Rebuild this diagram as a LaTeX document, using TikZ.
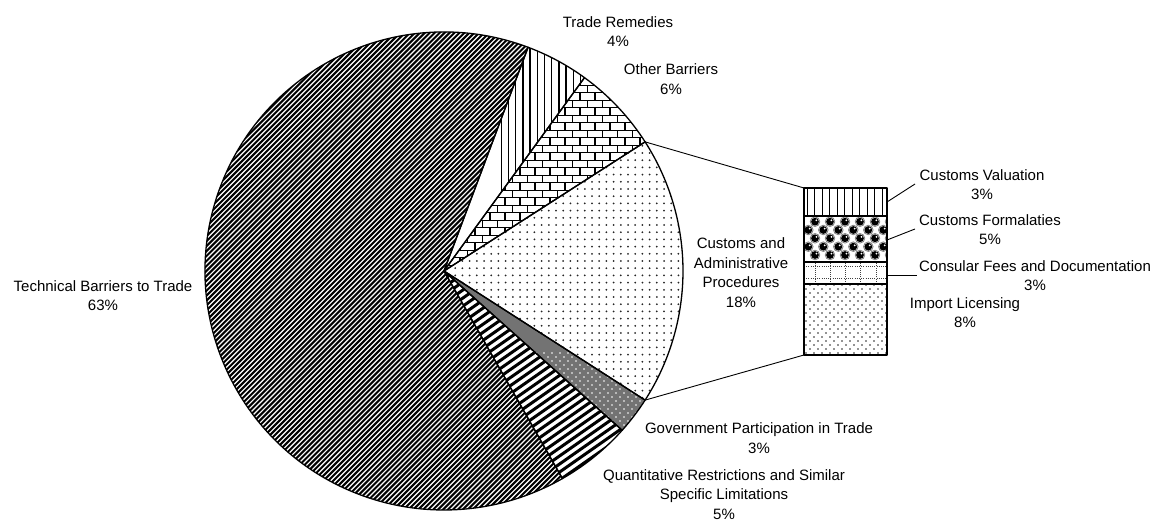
\documentclass[tikz,border=0pt]{standalone}
\usepackage{fontspec}
\setmainfont{Liberation Sans}
\usetikzlibrary{calc}
% closed pie wedge from the centre (O) between two angles
\newcommand\wedgepath[2]{(O) -- ($(O)+(#1:\R)$) arc[start angle=#1, end angle=#2, radius=\R] -- cycle}
\begin{document}
\begin{tikzpicture}[x=1pt,y=1pt,
  lbl/.style={font=\fontsize{15}{19.5}\selectfont, align=center, inner sep=0pt},
  edge/.style={line width=1.3pt, line join=round},
  leader/.style={line width=0.9pt},
]
\useasboundingbox (0,0) rectangle (1153,521);
\def\R{239}
\coordinate (O) at (444,250);

% ---------- Technical Barriers to Trade: fine rising stripes
\begin{scope}
  \clip \wedgepath{69.4}{299.7};
  \begin{scope}[rotate around={45:(444,250)}]
    \foreach \k in {-70,...,70}
      \draw[line width=2pt] (190,250+\k*3.5) -- (700,250+\k*3.5);
  \end{scope}
\end{scope}

% ---------- Trade Remedies: vertical lines
\begin{scope}
  \clip \wedgepath{54}{69.4};
  \foreach \k in {0,...,15}
    \draw[line width=1.3pt] (501.3+\k*7.2,240) -- (501.3+\k*7.2,500);
\end{scope}

% ---------- Other Barriers: bricks
\begin{scope}
  \clip \wedgepath{32.7}{54};
  \foreach \k in {0,...,27} {
    \pgfmathsetmacro\yy{240.8+\k*7.5}
    \pgfmathsetmacro\off{mod(\k,2)*7.5}
    \draw[line width=1.3pt] (430,\yy) -- (680,\yy);
    \foreach \j in {0,...,16}
      \draw[line width=1.3pt] (430+\off+\j*15,\yy) -- ++(0,7.5);
  }
\end{scope}

% ---------- Customs and Administrative Procedures: sparse dots
\begin{scope}
  \clip \wedgepath{-32.7}{32.7};
  \foreach \i in {0,...,33}
    \foreach \j in {0,...,36}
      \fill[black!85] (448+\i*7.2,116+\j*7.2) circle (1.0);
\end{scope}

% ---------- Government Participation in Trade: grey with white dots
\begin{scope}
  \clip \wedgepath{-41.8}{-32.7};
  \fill[black!55] (440,80) rectangle (690,260);
  \foreach \i in {0,...,32}
    \foreach \j in {0,...,22} {
      \pgfmathsetmacro\off{mod(\j,2)*4}
      \fill[white] (440+\off+\i*8,80+\j*4) circle (0.9);
    }
\end{scope}

% ---------- Quantitative Restrictions: wide rising stripes
\begin{scope}
  \clip \wedgepath{-60.3}{-41.8};
  \begin{scope}[rotate around={35:(444,250)}]
    \foreach \k in {-40,...,40}
      \draw[line width=3pt] (190,250+\k*6.6) -- (700,250+\k*6.6);
  \end{scope}
\end{scope}

% ---------- wedge outlines
\foreach \a/\b in {69.4/299.7, 54/69.4, 32.7/54, -32.7/32.7, -41.8/-32.7, -60.3/-41.8}
  \draw[edge] \wedgepath{\a}{\b};

% ---------- breakdown bar
\coordinate (boxNW) at (804,333);
\coordinate (boxSW) at (804,166);
\coordinate (boxNE) at (887,333);
\coordinate (boxSE) at (887,166);

% Customs Valuation: vertical lines
\begin{scope}
  \clip (804,305) rectangle (887,333);
  \foreach \k in {0,...,10}
    \draw[line width=1.2pt] (807.3+\k*7.5,305) -- ++(0,28);
\end{scope}

% Customs Formalaties: spheres
\begin{scope}
  \clip (804,259) rectangle (887,305);
  \foreach \r/\yy in {0/299.3, 1/291, 2/282.7, 3/274.3, 4/266} {
    \pgfmathsetmacro\off{mod(\r,2)*(-6.7)}
    \foreach \j in {0,...,6} {
      \draw[black!50, line width=0.8pt] (815+\off+\j*15,\yy) circle (4.8);
      \fill[black] (815+\off+\j*15,\yy) circle (3.9);
      \fill[white] (816.4+\off+\j*15,\yy+1.4) circle (1.0);
    }
  }
\end{scope}

% Consular Fees and Documentation: dotted grid
\begin{scope}
  \clip (804,237) rectangle (887,259);
  \foreach \yy in {254,242}
    \draw[black!75, line width=1pt, dash pattern=on 1pt off 1.2pt] (804,\yy) -- (887,\yy);
  \foreach \xx in {815,830,845,860,876}
    \draw[black!75, line width=1pt, dash pattern=on 1pt off 1.2pt] (\xx,237) -- (\xx,259);
\end{scope}

% Import Licensing: staggered dots
\begin{scope}
  \clip (804,166) rectangle (887,237);
  \foreach \j in {0,...,18} {
    \pgfmathsetmacro\off{mod(\j,2)*4}
    \foreach \i in {0,...,11}
      \fill[black!85] (806+\off+\i*8,168+\j*4) circle (0.85);
  }
\end{scope}

\draw[edge] (boxSW) rectangle (boxNE);
\draw[edge] (804,305) -- (887,305);
\draw[edge] (804,259) -- (887,259);
\draw[edge] (804,237) -- (887,237);

% ---------- connectors from the split wedge to the bar
\coordinate (splitTop) at ($(O)+(32.7:\R)$);
\coordinate (splitBot) at ($(O)+(-32.7:\R)$);
\draw[leader] (splitTop) -- (boxNW);
\draw[leader] (splitBot) -- (boxSW);

% ---------- labels
\node[lbl] (tbt) at (103,225.5) {Technical Barriers to Trade\\63\%};
\node[lbl] (tr)  at (618,489.25) {Trade Remedies\\4\%};
\node[lbl] (ob)  at (671,442) {Other Barriers\\6\%};
\node[lbl] (cap) at (741,248.5) {Customs and\\Administrative\\Procedures\\18\%};
\node[lbl] (gp)  at (759,83) {Government Participation in Trade\\3\%};
\node[lbl] (qr)  at (724,26.5) {Quantitative Restrictions and Similar\\Specific Limitations\\5\%};

\node[lbl] (cv)  at (982,336.5) {Customs Valuation\\3\%};
\node[lbl] (cf)  at (990,291.5) {Customs Formalaties\\5\%};
\node[lbl] (cfd) at (1035,245.5) {Consular Fees and Documentation\\3\%};
\node[lbl] (il)  at (965,208.5) {Import Licensing\\8\%};

% ---------- leader lines for the bar labels
\coordinate (cvA) at (887,319);
\coordinate (cvB) at (915,337);
\coordinate (cfA) at (887,281);
\coordinate (cfB) at (915,292);
\coordinate (cdA) at (887,246);
\coordinate (cdB) at (917,246);
\draw[leader] (cvA) -- (cvB);
\draw[leader] (cfA) -- (cfB);
\draw[leader] (cdA) -- (cdB);
\end{tikzpicture}
\end{document}
